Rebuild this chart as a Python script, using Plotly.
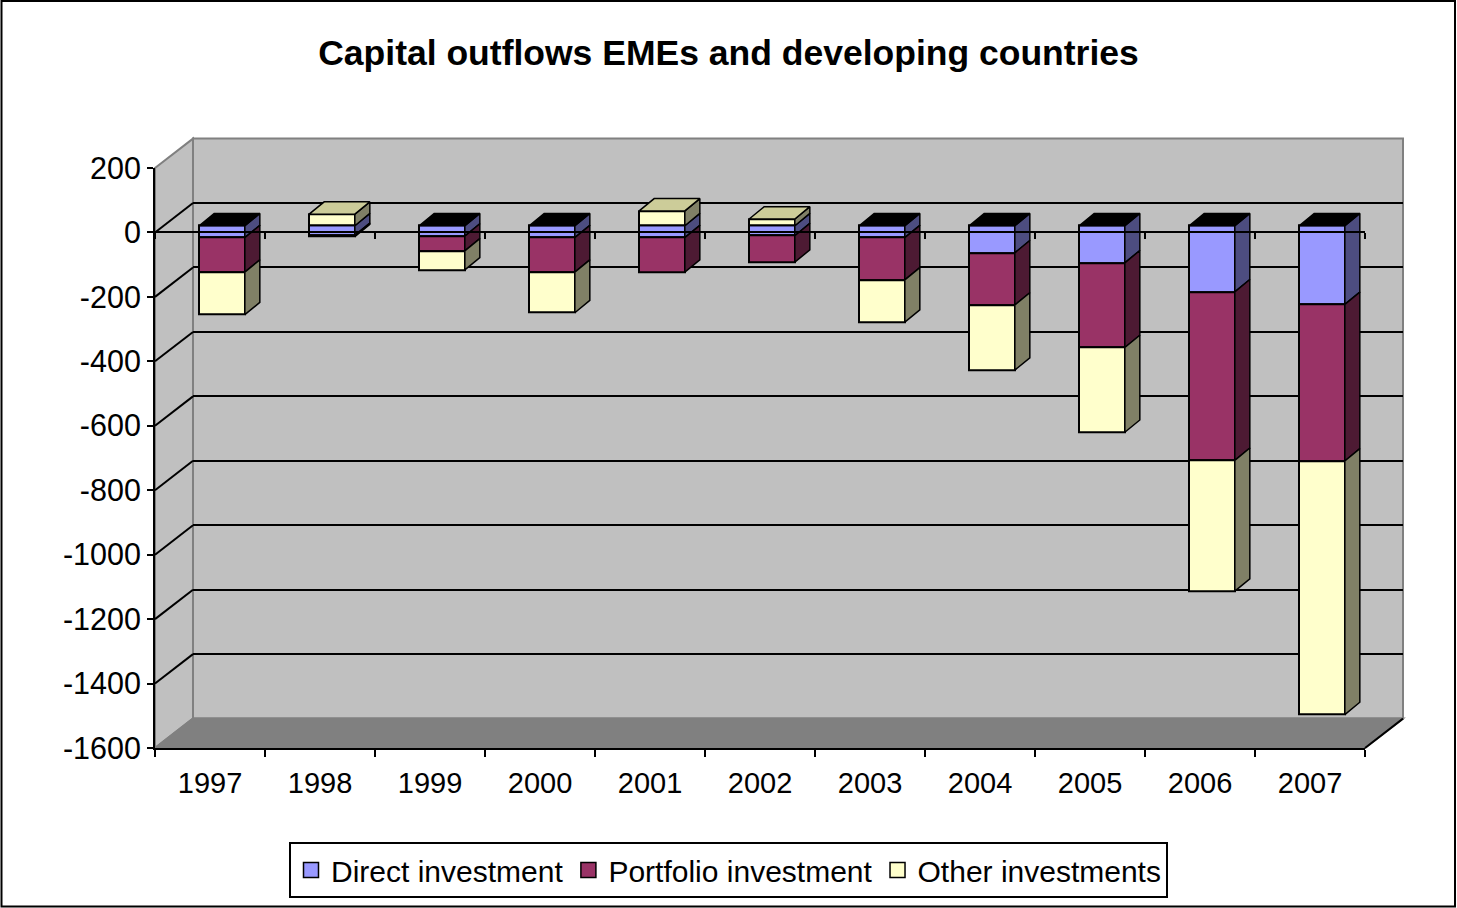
import plotly.graph_objects as go

# ---------------- data ----------------
years = ["1997", "1998", "1999", "2000", "2001", "2002", "2003", "2004", "2005", "2006", "2007"]
direct = [-37, -30, -32, -37, -37, -31, -37, -84, -115, -205, -244]
portfolio = [-107, -4, -46, -107, -107, -82, -131, -162, -263, -523, -486]
other = [-132, 36, -59, -126, 46, 21, -131, -202, -263, -406, -787]
series_names = ["Direct investment", "Portfolio investment", "Other investments"]
y_tick_values = [200, 0, -200, -400, -600, -800, -1000, -1200, -1400, -1600]
y_tick_labels = ["200", "0", "-200", "-400", "-600", "-800", "-1000", "-1200", "-1400", "-1600"]
grid_values = [0, -200, -400, -600, -800, -1000, -1200, -1400]

# ---------------- styles / geometry ----------------
front_colors = ["#9999FF", "#993366", "#FFFFCC"]
side_colors = ["#4D4D80", "#4D1A33", "#808066"]
top_colors = ["#7A7ACC", "#7A2952", "#CCCC99"]
FONT = "Liberation Sans, Arial, sans-serif"

W, H = 1457, 908
def fx(p):
    return p / W
def fy(p):
    return 1 - p / H

Y_MIN, Y_MAX = -1600, 200
FX0, FX1 = 155, 1365          # front plane x extent (px)
FY_TOP, FY_BOT = 168, 748     # front plane y extent (px) for 200 / -1600
BDX, BDY = 12, -6.7           # bar front-face plane offset (px)
WDX, WDY = 38, -29.4          # back wall offset (px)
DDX, DDY = 15, -12.3          # bar depth (px)
BAR_W = 0.415

n = len(years)
cat_px = (FX1 - FX0) / n
val_px = (FY_BOT - FY_TOP) / (Y_MAX - Y_MIN)
dx = DDX / cat_px
dy = -DDY / val_px

def ypx_front(v):
    return FY_TOP + (Y_MAX - v) * val_px

fig = go.Figure()

# back wall gridlines subplot (x, y)
fig.add_trace(go.Scatter(x=[None], y=[None], xaxis="x", yaxis="y",
                         showlegend=False, hoverinfo="skip"))

# bars on bar plane (x2, y2)
all_series = [direct, portfolio, other]
for k, vals in enumerate(all_series):
    fig.add_trace(go.Bar(
        x=list(range(n)), y=vals, name=series_names[k], width=BAR_W,
        marker=dict(color=front_colors[k], line=dict(color="black", width=2)),
        xaxis="x2", yaxis="y2", hoverinfo="skip", showlegend=False))

# side faces and top faces derived from the same data
side_x = [[] for _ in all_series]
side_y = [[] for _ in all_series]
top_x = {}
top_y = {}
for i in range(n):
    pos, neg = 0.0, 0.0
    xl, xr = i - BAR_W / 2, i + BAR_W / 2
    top_k = None
    for k, vals in enumerate(all_series):
        v = vals[i]
        if v >= 0:
            b = pos; pos += v; t = pos
            if v > 0:
                top_k = k
        else:
            b = neg; neg += v; t = neg
        side_x[k] += [xr, xr + dx, xr + dx, xr, xr, None]
        side_y[k] += [b, b + dy, t + dy, t, b, None]
    col = "black" if top_k is None else top_colors[top_k]
    top_x.setdefault(col, [])
    top_y.setdefault(col, [])
    top_x[col] += [xl, xl + dx, xr + dx, xr, xl, None]
    top_y[col] += [pos, pos + dy, pos + dy, pos, pos, None]

for k in range(len(all_series)):
    fig.add_trace(go.Scatter(
        x=side_x[k], y=side_y[k], mode="lines", fill="toself",
        fillcolor=side_colors[k], line=dict(color="black", width=1.5),
        xaxis="x2", yaxis="y2", showlegend=False, hoverinfo="skip"))
for col in top_x:
    fig.add_trace(go.Scatter(
        x=top_x[col], y=top_y[col], mode="lines", fill="toself",
        fillcolor=col, line=dict(color="black", width=1.5),
        xaxis="x2", yaxis="y2", showlegend=False, hoverinfo="skip"))

# legend entries (square swatches)
for k in range(len(all_series)):
    fig.add_trace(go.Scatter(
        x=[None], y=[None], mode="markers", name=series_names[k],
        marker=dict(symbol="square", size=15, color=front_colors[k],
                    line=dict(color="black", width=1.5)),
        xaxis="x2", yaxis="y2", hoverinfo="skip"))

# front axes (x3, y3) and zero line axis (x4)
fig.add_trace(go.Scatter(x=years, y=[None] * n, xaxis="x3", yaxis="y3",
                         showlegend=False, hoverinfo="skip", mode="markers"))
fig.add_trace(go.Scatter(x=years, y=[None] * n, xaxis="x4", yaxis="y3",
                         showlegend=False, hoverinfo="skip", mode="markers"))

# ---------------- decorations (walls) ----------------
def path(points):
    s = "M " + " L ".join(f"{fx(a):.5f},{fy(b):.5f}" for a, b in points) + " Z"
    return s

shapes = []
wall_top = FY_TOP + WDY
wall_bot = FY_BOT + WDY
# back wall
shapes.append(dict(type="path", xref="paper", yref="paper", layer="below",
                   path=path([(FX0 + WDX, wall_top), (FX1 + WDX, wall_top),
                              (FX1 + WDX, wall_bot), (FX0 + WDX, wall_bot)]),
                   fillcolor="#C0C0C0", line=dict(color="#808080", width=2)))
# side wall
shapes.append(dict(type="path", xref="paper", yref="paper", layer="below",
                   path=path([(FX0, FY_TOP), (FX0 + WDX, wall_top),
                              (FX0 + WDX, wall_bot), (FX0, FY_BOT)]),
                   fillcolor="#C0C0C0", line=dict(color="#808080", width=2)))
# floor
shapes.append(dict(type="path", xref="paper", yref="paper", layer="below",
                   path=path([(FX0, FY_BOT), (FX0 + WDX, wall_bot),
                              (FX1 + WDX, wall_bot), (FX1, FY_BOT)]),
                   fillcolor="#808080", line=dict(color="#808080", width=2)))
# floor right edge
shapes.append(dict(type="line", xref="paper", yref="paper", layer="above",
                   x0=fx(FX1), y0=fy(FY_BOT), x1=fx(FX1 + WDX), y1=fy(wall_bot),
                   line=dict(color="black", width=2)))
# side wall diagonal gridlines
for v in grid_values:
    yp = ypx_front(v)
    shapes.append(dict(type="line", xref="paper", yref="paper", layer="below",
                       x0=fx(FX0), y0=fy(yp), x1=fx(FX0 + WDX), y1=fy(yp + WDY),
                       line=dict(color="black", width=2)))
# chart border
shapes.append(dict(type="rect", xref="paper", yref="paper", layer="above",
                   x0=fx(1.5), x1=fx(1455), y0=fy(906.5), y1=fy(1),
                   line=dict(color="black", width=2), fillcolor="rgba(0,0,0,0)"))

front_xdom = [fx(FX0), fx(FX1)]
front_ydom = [fy(FY_BOT), fy(FY_TOP)]

fig.update_layout(
    template="none",
    width=W, height=H, autosize=False,
    margin=dict(l=0, r=0, t=0, b=0),
    paper_bgcolor="white", plot_bgcolor="rgba(0,0,0,0)",
    font=dict(family=FONT, color="black", size=29),
    barmode="relative", bargap=0,
    title=dict(text="<b>Capital outflows EMEs and developing countries</b>",
               x=0.5, xanchor="center", y=fy(53), yanchor="middle",
               xref="paper", yref="paper",
               font=dict(family=FONT, size=35.5, color="black")),
    showlegend=True,
    legend=dict(orientation="h", x=0.5, xanchor="center", y=fy(842), yanchor="top",
                bgcolor="white", bordercolor="black", borderwidth=2,
                font=dict(family=FONT, size=30, color="black"),
                traceorder="normal", itemwidth=30),
    shapes=shapes,
    # back wall grid
    xaxis=dict(domain=[fx(FX0 + WDX), fx(FX1 + WDX)], range=[-0.5, n - 0.5],
               visible=False, anchor="y"),
    yaxis=dict(domain=[fy(wall_bot), fy(wall_top)], range=[Y_MIN, Y_MAX],
               tickvals=grid_values, showticklabels=False, ticks="",
               showgrid=True, gridcolor="black", gridwidth=2,
               showline=False, zeroline=False, anchor="x"),
    # bar plane
    xaxis2=dict(domain=[fx(FX0 + BDX), fx(FX1 + BDX)], range=[-0.5, n - 0.5],
                visible=False, anchor="y2"),
    yaxis2=dict(domain=[fy(FY_BOT + BDY), fy(FY_TOP + BDY)], range=[Y_MIN, Y_MAX],
                visible=False, anchor="x2"),
    # front axes
    xaxis3=dict(domain=front_xdom, type="category", categoryorder="array",
                categoryarray=years, range=[-0.5, n - 0.5], anchor="y3",
                showline=True, linecolor="black", linewidth=2,
                ticks="outside", tickson="boundaries", ticklen=7, tickwidth=2,
                tickcolor="black", tickfont=dict(size=29), showgrid=False,
                zeroline=False, ticklabelstandoff=8, automargin=False),
    yaxis3=dict(domain=front_ydom, range=[Y_MIN, Y_MAX], anchor="x3",
                tickvals=y_tick_values, ticktext=y_tick_labels,
                ticks="outside", ticklen=6, tickwidth=2, tickcolor="black",
                showline=True, linecolor="black", linewidth=2,
                tickfont=dict(size=30.5), showgrid=False, zeroline=False,
                ticklabelstandoff=0, automargin=False),
    xaxis4=dict(overlaying="x3", type="category", categoryorder="array",
                categoryarray=years, range=[-0.5, n - 0.5], anchor="free",
                position=fy(ypx_front(0)), side="bottom",
                showline=True, linecolor="black", linewidth=2,
                ticks="outside", tickson="boundaries", ticklen=6, tickwidth=2,
                tickcolor="black", showticklabels=False, showgrid=False,
                zeroline=False, automargin=False),
)

fig.write_html("out.html")
